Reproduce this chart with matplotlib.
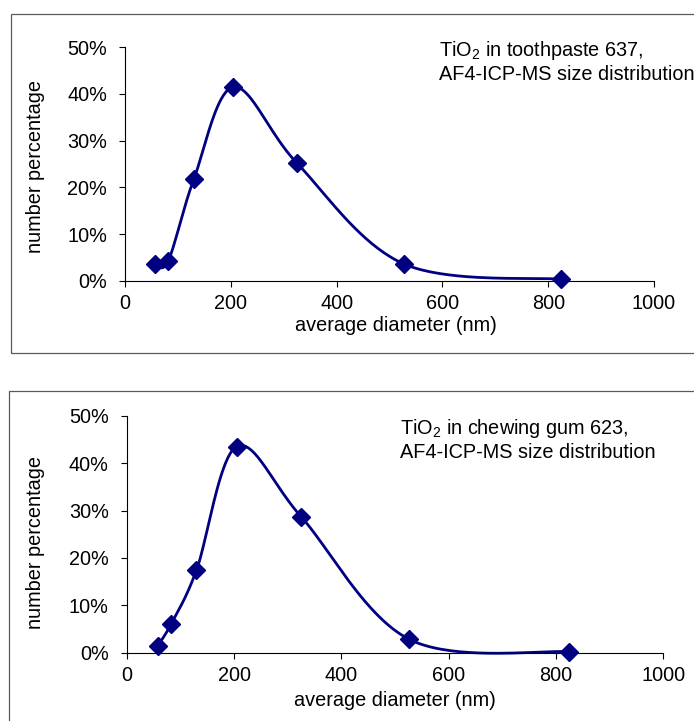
import numpy as np
import matplotlib
matplotlib.use('Agg')
import matplotlib.pyplot as plt
from matplotlib.patches import Rectangle
from matplotlib.ticker import PercentFormatter, MultipleLocator

plt.rcParams['font.family'] = ['Liberation Sans', 'DejaVu Sans']
plt.rcParams['mathtext.default'] = 'regular'

# data
diam_toothpaste = [57, 82, 130, 205, 325, 527, 825]
pct_toothpaste = [3.5, 4.3, 21.7, 41.5, 25.2, 3.6, 0.3]
diam_gum = [58, 83, 130, 205, 325, 527, 825]
pct_gum = [1.5, 6.1, 17.4, 43.5, 28.7, 2.8, 0.2]
label_toothpaste = 'TiO$_2$ in toothpaste 637,\nAF4-ICP-MS size distribution'
label_gum = 'TiO$_2$ in chewing gum 623,\nAF4-ICP-MS size distribution'

NAVY = '#000080'
FS = 14.3


def smooth(x, y, n=40):
    # excel style smoothed line (catmull-rom as cubic bezier)
    p = np.column_stack([x, y]).astype(float)
    pts = []
    for i in range(len(p) - 1):
        p0 = p[i - 1] if i > 0 else p[i]
        p3 = p[i + 2] if i + 2 < len(p) else p[i + 1]
        c1 = p[i] + (p[i + 1] - p0) / 6
        c2 = p[i + 1] - (p3 - p[i]) / 6
        t = np.linspace(0, 1, n)[:, None]
        seg = ((1 - t) ** 3 * p[i] + 3 * (1 - t) ** 2 * t * c1
               + 3 * (1 - t) * t ** 2 * c2 + t ** 3 * p[i + 1])
        pts.append(seg if i == 0 else seg[1:])
    pts = np.vstack(pts)
    return pts[:, 0], pts[:, 1]


def panel(ax, x, y, label, text_x, text_y):
    sx, sy = smooth(x, y)
    ax.plot(sx, sy, color=NAVY, lw=2, solid_capstyle='round', clip_on=False)
    ax.plot(x, y, ls='none', marker='D', ms=9, color=NAVY, clip_on=False, zorder=3)
    ax.set_xlim(0, 1000)
    ax.set_ylim(0, 50)
    ax.xaxis.set_major_locator(MultipleLocator(200))
    ax.yaxis.set_major_locator(MultipleLocator(10))
    ax.yaxis.set_major_formatter(PercentFormatter(xmax=100, decimals=0))
    for s in ['top', 'right']:
        ax.spines[s].set_visible(False)
    for s in ['left', 'bottom']:
        ax.spines[s].set_linewidth(0.8)
    ax.tick_params(axis='y', direction='out', length=4.5, width=0.8, pad=8.5, labelsize=FS)
    ax.tick_params(axis='x', direction='out', length=4, width=0.8, pad=5.5, labelsize=FS)
    ax.set_xlabel('average diameter (nm)', fontsize=FS)
    ax.set_ylabel('number percentage', fontsize=FS)
    ax.text(text_x, text_y, label, transform=ax.transAxes, fontsize=FS,
            va='top', ha='left', linespacing=1.2)


fig = plt.figure(figsize=(6.94, 7.21), dpi=100)

# outer chart frames
fig.patches.append(Rectangle((11 / 694, 1 - 353 / 721), 1.2, 339 / 721,
                             transform=fig.transFigure, fill=False,
                             edgecolor='#5a5a5a', lw=0.9))
fig.patches.append(Rectangle((9 / 694, -0.1), 1.2, 1 - 391 / 721 + 0.1,
                             transform=fig.transFigure, fill=False,
                             edgecolor='#5a5a5a', lw=0.9))

ax1 = fig.add_axes([125 / 694, 1 - 280.7 / 721, 529 / 694, 233.4 / 721])
panel(ax1, diam_toothpaste, pct_toothpaste, label_toothpaste, 0.594, 1.035)
ax1.xaxis.set_label_coords(0.512, -0.15)
ax1.yaxis.set_label_coords(-0.151, 0.488)

ax2 = fig.add_axes([126.7 / 694, 1 - 652.7 / 721, 536.6 / 694, 237 / 721])
panel(ax2, diam_gum, pct_gum, label_gum, 0.509, 0.995)
ax2.xaxis.set_label_coords(0.499, -0.16)
ax2.yaxis.set_label_coords(-0.152, 0.464)

fig.savefig('out.png', dpi=100)
